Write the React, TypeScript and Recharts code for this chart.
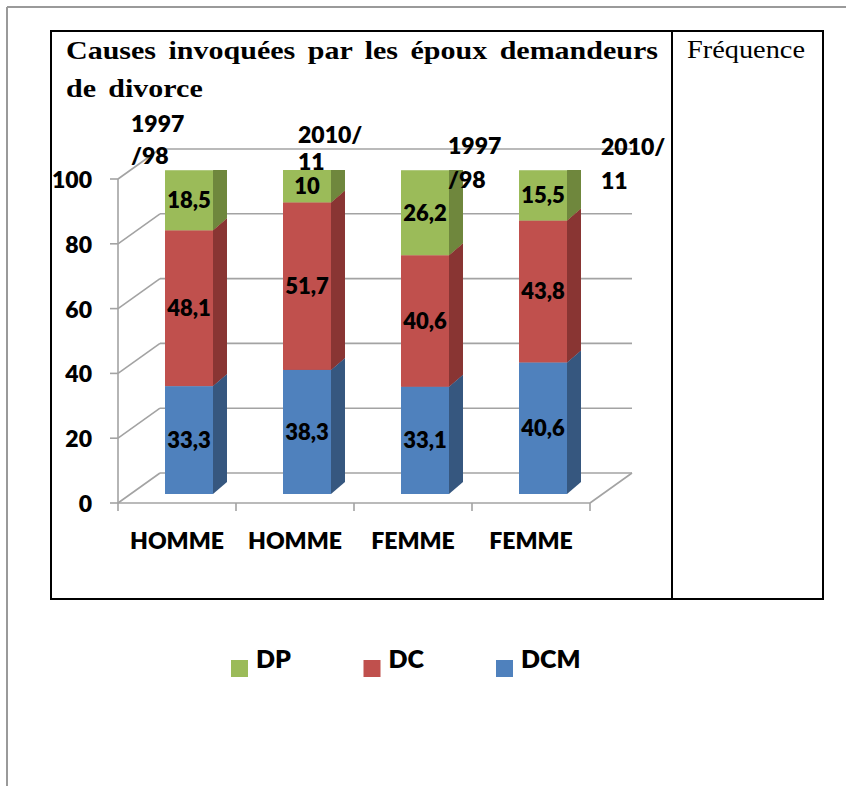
import React from 'react';
import {
  BarChart,
  Bar,
  XAxis,
  YAxis,
  ReferenceLine,
  ReferenceArea,
  LabelList,
  Legend,
} from 'recharts';

// ---------- data ----------
const CATEGORIES = ['HOMME', 'HOMME', 'FEMME', 'FEMME'];
const PERIOD_LINES = [
  ['1997', '/98'],
  ['2010/', '11'],
  ['1997', '/98'],
  ['2010/', '11'],
];
const DCM = [33.3, 38.3, 33.1, 40.6];
const DC = [48.1, 51.7, 40.6, 43.8];
const DP = [18.5, 10, 26.2, 15.5];
const Y_TICKS = [0, 20, 40, 60, 80, 100];
const SERIES_NAMES: Record<string, string> = { dcm: 'DCM', dc: 'DC', dp: 'DP' };
const LEGEND_ORDER = ['dp', 'dc', 'dcm'];
const TITLE_LINE_1 = 'Causes invoquées par les époux demandeurs';
const TITLE_LINE_2 = 'de divorce';
const SIDE_HEADER = 'Fréquence';

const data = CATEGORIES.map((cat, i) => ({
  cat,
  dcm: DCM[i],
  dc: DC[i],
  dp: DP[i],
}));

// ---------- layout / style ----------
const W = 846;
const H = 786;
const Y_AXIS_W = 60;
const X_AXIS_H = 30;
const MARGIN = { top: 170, right: 244, bottom: 262, left: 70 };
const FRONT = { dx: -12, dy: 9 };
const BACK = { dx: 30, dy: -21 };
const BAR_DEPTH = { dx: 14, dy: 12 };
const GRID = '#a3a3a3';
const GRID_W = 1.6;
const CHART_FONT = 'Lato, "Open Sans", sans-serif';
const CHART_WEIGHT = 800;
const SERIF = '"Liberation Serif", "Times New Roman", serif';
const TITLE_SIZE = 25;
const TITLE_STRETCH = 1.2;
const PERIOD_POS = [
  { dx: -58, y1: -371, y2: -339 },
  { dx: -9, y1: -360, y2: -333 },
  { dx: 23, y1: -349, y2: -315 },
  { dx: 58, y1: -348, y2: -314 },
];

const COLORS: Record<string, { front: string; side: string; top: string }> = {
  dcm: { front: '#4F81BD', side: '#36577F', top: '#4370A5' },
  dc: { front: '#C0504D', side: '#893533', top: '#A44440' },
  dp: { front: '#9BBB59', side: '#6F873D', top: '#7E9C45' },
};

const fmt = (v: any) => String(v).replace('.', ',');

const make3DBar = (c: { front: string; side: string; top: string }) => (props: any) => {
  const { x, y, width, height } = props;
  if (x == null || y == null || !width || !height) return <g />;
  const { dx, dy } = BAR_DEPTH;
  const r = x + width;
  const b = y + height;
  return (
    <g>
      <path d={`M${r},${b} L${r + dx},${b - dy} L${r + dx},${y - dy} L${r},${y} Z`} fill={c.side} />
      <path d={`M${x},${y} L${x + dx},${y - dy} L${r + dx},${y - dy} L${r},${y} Z`} fill={c.top} />
      <rect x={x} y={y} width={width} height={height} fill={c.front} />
    </g>
  );
};

const GridShape = (props: any) => {
  const { x1, x2, y1 } = props;
  const y = y1;
  return (
    <g stroke={GRID} strokeWidth={GRID_W} fill="none">
      <line x1={x1 + FRONT.dx} y1={y + FRONT.dy} x2={x1 + BACK.dx} y2={y + BACK.dy} />
      <line x1={x1 + BACK.dx} y1={y + BACK.dy} x2={x2 + BACK.dx} y2={y + BACK.dy} />
    </g>
  );
};

const FloorShape = (props: any) => {
  const { x, y, width, height } = props;
  const b = y + height;
  const n = CATEGORIES.length;
  return (
    <g stroke={GRID} strokeWidth={GRID_W} fill="none">
      <line x1={x + FRONT.dx} y1={y + FRONT.dy} x2={x + FRONT.dx} y2={b + FRONT.dy} />
      <line x1={x + FRONT.dx} y1={b + FRONT.dy} x2={x + width + FRONT.dx} y2={b + FRONT.dy} />
      <line
        x1={x + width + FRONT.dx}
        y1={b + FRONT.dy}
        x2={x + width + BACK.dx}
        y2={b + BACK.dy}
      />
      {Array.from({ length: n + 1 }, (_, i) => (
        <line
          key={i}
          x1={x + FRONT.dx + (i * width) / n}
          y1={b + FRONT.dy}
          x2={x + FRONT.dx + (i * width) / n}
          y2={b + FRONT.dy + 8}
        />
      ))}
    </g>
  );
};

const YTick = (props: any) => {
  const { x, y, payload } = props;
  return (
    <g>
      <line x1={x - 20} y1={y + 9} x2={x - 12} y2={y + 9} stroke={GRID} strokeWidth={GRID_W} />
      <text
        x={x - 38}
        y={y + 9}
        textAnchor="end"
        dominantBaseline="central"
        fontFamily={CHART_FONT}
        fontWeight={CHART_WEIGHT}
        fontSize={23}
        fill="#000"
      >
        {payload.value}
      </text>
    </g>
  );
};

const XTick = (props: any) => {
  const { x, y, payload } = props;
  const i = payload?.index ?? props.index ?? 0;
  const lines = PERIOD_LINES[i];
  const pos = PERIOD_POS[i];
  return (
    <g fontFamily={CHART_FONT} fontWeight={CHART_WEIGHT} fontSize={23} fill="#000">
      <text x={x - 12} y={y + 46} textAnchor="middle" dominantBaseline="central">
        {payload.value}
      </text>
      <text x={x + pos.dx} y={y + pos.y1} dominantBaseline="central">
        {lines[0]}
      </text>
      <text x={x + pos.dx} y={y + pos.y2} dominantBaseline="central">
        {lines[1]}
      </text>
    </g>
  );
};

const LegendContent = () => (
  <svg width={W} height={60} style={{ display: 'block' }}>
    {LEGEND_ORDER.map((k, i) => {
      const lx = 231 + i * 132.5;
      return (
        <g key={k}>
          <rect x={lx} y={20} width={17} height={17} fill={COLORS[k].front} />
          <text
            x={lx + 25}
            y={28}
            fontFamily={CHART_FONT}
            fontWeight={CHART_WEIGHT}
            fontSize={25}
            fill="#000"
          >
            {SERIES_NAMES[k]}
          </text>
        </g>
      );
    })}
  </svg>
);

const labelStyle = {
  fill: '#000',
  fontSize: 22,
  fontWeight: CHART_WEIGHT,
  fontFamily: CHART_FONT,
};

const titleBase: React.CSSProperties = {
  position: 'absolute',
  left: 66,
  transform: `scaleX(${TITLE_STRETCH})`,
  transformOrigin: '0 0',
  fontFamily: SERIF,
  fontWeight: 700,
  fontSize: TITLE_SIZE,
  lineHeight: `${TITLE_SIZE}px`,
  color: '#000',
};

export default function App() {
  return (
    <div style={{ position: 'absolute', left: 0, top: 0, width: W, height: H, background: '#fff' }}>
      <svg width={W} height={H} style={{ position: 'absolute', left: 0, top: 0 }}>
        <line x1={7} y1={7} x2={W} y2={7} stroke="#9a9a9a" strokeWidth={2} />
        <line x1={7} y1={7} x2={7} y2={H} stroke="#9a9a9a" strokeWidth={2} />
        <rect x={51} y={31} width={772} height={568} fill="none" stroke="#000" strokeWidth={2} />
        <line x1={672} y1={31} x2={672} y2={599} stroke="#000" strokeWidth={2} />
        <text
          x={687}
          y={58}
          fontFamily={SERIF}
          fontSize={26}
          textLength={118}
          lengthAdjust="spacingAndGlyphs"
          fill="#000"
        >
          {SIDE_HEADER}
        </text>
      </svg>
      <div
        style={{
          ...titleBase,
          top: 38,
          width: 592 / TITLE_STRETCH,
          textAlign: 'justify',
          textAlignLast: 'justify' as any,
        }}
      >
        {TITLE_LINE_1}
      </div>
      <div style={{ ...titleBase, top: 76, wordSpacing: 4, whiteSpace: 'nowrap' }}>
        {TITLE_LINE_2}
      </div>
      <div style={{ position: 'absolute', left: 0, top: 0 }}>
        <BarChart width={W} height={H} data={data} margin={MARGIN} barSize={48}>
          <ReferenceArea y1={0} y2={100} shape={FloorShape} ifOverflow="visible" zIndex={-100} />
          {Y_TICKS.map((v) => (
            <ReferenceLine key={v} y={v} shape={GridShape} ifOverflow="visible" zIndex={-100} />
          ))}
          <XAxis
            dataKey="cat"
            height={X_AXIS_H}
            tickSize={0}
            tickMargin={0}
            axisLine={false}
            tickLine={false}
            interval={0}
            tick={<XTick />}
          />
          <YAxis
            type="number"
            width={Y_AXIS_W}
            domain={[0, 100]}
            ticks={Y_TICKS}
            tickSize={0}
            tickMargin={0}
            axisLine={false}
            tickLine={false}
            allowDataOverflow
            tick={<YTick />}
          />
          <Bar
            dataKey="dcm"
            name={SERIES_NAMES.dcm}
            stackId="s"
            fill={COLORS.dcm.front}
            shape={make3DBar(COLORS.dcm)}
            isAnimationActive={false}
          >
            <LabelList dataKey="dcm" position="center" formatter={fmt} {...labelStyle} />
          </Bar>
          <Bar
            dataKey="dc"
            name={SERIES_NAMES.dc}
            stackId="s"
            fill={COLORS.dc.front}
            shape={make3DBar(COLORS.dc)}
            isAnimationActive={false}
          >
            <LabelList dataKey="dc" position="center" formatter={fmt} {...labelStyle} />
          </Bar>
          <Bar
            dataKey="dp"
            name={SERIES_NAMES.dp}
            stackId="s"
            fill={COLORS.dp.front}
            shape={make3DBar(COLORS.dp)}
            isAnimationActive={false}
          >
            <LabelList dataKey="dp" position="center" formatter={fmt} {...labelStyle} />
          </Bar>
          <Legend
            verticalAlign="middle"
            align="center"
            content={<LegendContent />}
            wrapperStyle={{ left: 0, top: 640, width: W, height: 60 }}
          />
        </BarChart>
      </div>
    </div>
  );
}
